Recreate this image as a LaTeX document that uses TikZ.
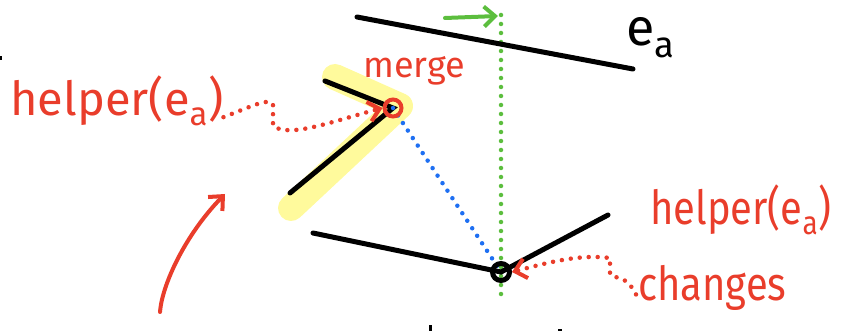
\documentclass[tikz,border=0pt]{standalone}
\usepackage{fontspec}
\setsansfont{Fira Sans}
\usetikzlibrary{arrows.meta, positioning, calc}
\definecolor{inkred}{HTML}{E93D2B}
\definecolor{inkgreen}{HTML}{5CBE3E}
\definecolor{inkblue}{HTML}{1E6FF2}
\definecolor{markyellow}{HTML}{FFFA9C}
\newcommand{\edgea}{e\textsubscript{a}}

\begin{document}
\begin{tikzpicture}[
    x=1pt, y=-1pt,
    every node/.style={font=\sffamily, inner sep=0pt},
    seg/.style={line width=5pt, line cap=round, black},
    hand/.style={text=inkred, font=\sffamily\fontsize{47}{47}\selectfont},
    dotline/.style={line width=#1, line cap=round, dash pattern=on 0pt off 9pt},
    barb/.style={-{Straight Barb[length=11pt, width=20pt, line width=4pt]}},
    pointer/.style={dotline=4.5pt, inkred, barb}
]
\useasboundingbox (0,0) rectangle (849,331);

% vertices
\coordinate (ta) at (357,17);
\coordinate (tb) at (633,69);
\coordinate (ua) at (325,81);
\coordinate (mv) at (393,108);
\coordinate (la) at (290,193);
\coordinate (ba) at (313,233);
\coordinate (bv) at (501,272);
\coordinate (bb) at (608,215);
\coordinate (sweeptop) at (501,15);
\coordinate (sweepbot) at (501,294);

% highlight
\draw[markyellow, line width=26pt, line cap=round, line join=round]
    (335,77) -- (400,106) -- (291,208);

% sweep line
\draw[dotline=4.5pt, inkgreen] (sweeptop) -- (sweepbot);
\draw[inkgreen, line width=4pt, line cap=round, barb] (445,18) -- (498,16);

% segments
\draw[seg] (ta) -- (tb);
\draw[seg] (ua) -- (mv) -- (la);
\draw[seg] (ba) -- (bv) -- (bb);

% diagonal to merge vertex
\draw[dotline=4.5pt, inkblue] (mv) -- (bv);

% vertex markers
\node[draw=inkred, circle, line width=4pt, minimum size=17pt] (mergept) at (mv) {};
\node[draw=black, circle, line width=5pt, minimum size=17pt] (changept) at (bv) {};

% labels
\node[anchor=base west, font=\sffamily\fontsize{52}{52}\selectfont] (ealabel) at (626,46) {\edgea};
\node[hand, anchor=base west] (lhelper) at (10,116) {helper(\edgea)};
\node[hand, anchor=base west, font=\sffamily\fontsize{36}{36}\selectfont] (merge) at (363,78) {merge};
\node[hand, anchor=base west, xscale=0.85] (rhelper) at (650,225) {helper(\edgea)};
\node[hand, anchor=base west, xscale=0.85] (changes) at (638,301) {changes};

% pointers
\draw[pointer] ([yshift=-16pt]lhelper.east) .. controls (255,105) and (268,98) .. (273,104)
    -- (273,126) .. controls (290,138) and (330,122) .. (mergept.west);
\draw[pointer] ([xshift=-2pt, yshift=-6pt]changes.west) .. controls (625,272) and (612,280) .. (610,274)
    -- (610,258) .. controls (580,254) and (550,262) .. (changept.east);
\draw[inkred, line width=4pt, line cap=round, barb] (160,312) .. controls (162,285) and (185,235) .. (225,194);

% edge scraps
\fill (0,56) rectangle (2,60);
\fill (429,325) rectangle (432,331);
\fill (558,329) rectangle (562,331);
\end{tikzpicture}
\end{document}
